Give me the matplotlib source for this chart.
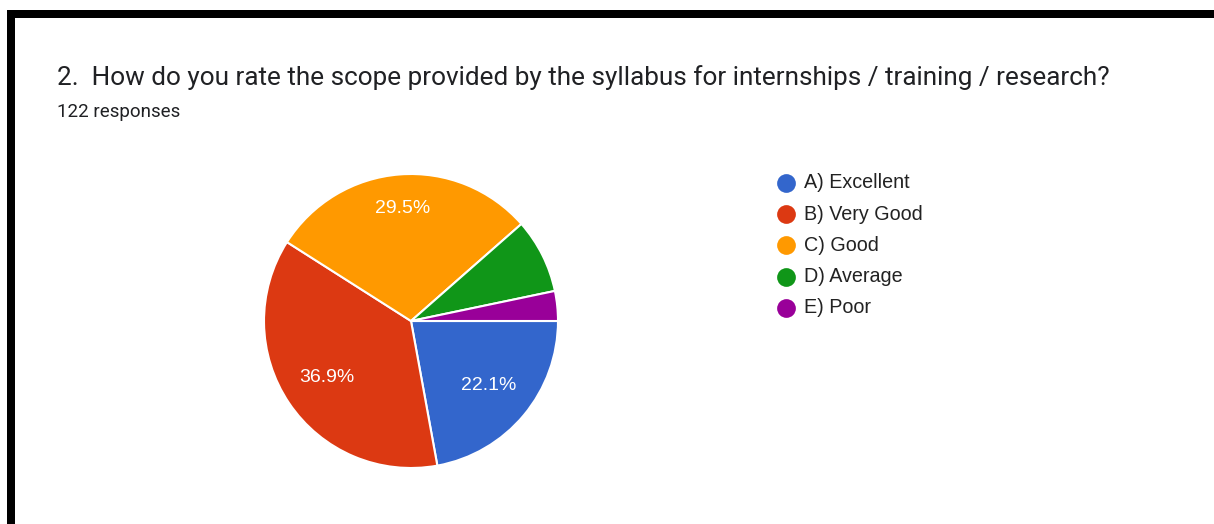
import matplotlib
matplotlib.use("Agg")
import matplotlib.pyplot as plt
from matplotlib.patches import Rectangle
from matplotlib.lines import Line2D


# Data
labels = ["A) Excellent", "B) Very Good", "C) Good", "D) Average", "E) Poor"]
counts = [27, 45, 36, 10, 4]
colors = ["#3366CC", "#DC3912", "#FF9900", "#109618", "#990099"]
title = "2.  How do you rate the scope provided by the syllabus for internships / training / research?"
subtitle = "122 responses"

W, H = 1214, 524
fig = plt.figure(figsize=(W / 100, H / 100), dpi=100)
fig.patch.set_facecolor("white")


def fx(px):
    return px / W


def fy(py):
    # py counted from the top of the image
    return 1 - py / H


# Black borders of the screenshot
fig.add_artist(Rectangle((fx(7), fy(18)), fx(W - 7), 8 / H, transform=fig.transFigure,
                         facecolor="black", edgecolor="none"))
fig.add_artist(Rectangle((fx(7), 0), fx(8), fy(10), transform=fig.transFigure,
                         facecolor="black", edgecolor="none"))

# Title
fig.text(fx(57), fy(85), title, fontsize=18.8, family="Roboto", color="#202124", va="baseline")
fig.text(fx(57), fy(117), subtitle, fontsize=13.5, family="Roboto", color="#202124", va="baseline")

# Pie
cx, cy, r = 411, 321, 147
ax = fig.add_axes([fx(cx - r), fy(cy + r), 2 * r / W, 2 * r / H])


def pct(p):
    return f"{p:.1f}%" if p > 10 else ""


wedges, texts, autotexts = ax.pie(
    counts, colors=colors, startangle=0, counterclock=False,
    autopct=pct, pctdistance=0.69,
    wedgeprops=dict(edgecolor="white", linewidth=1.5),
    textprops=dict(color="white", fontsize=14, family="Liberation Sans"),
)
# the label of the top slice sits a little further out
x, y = autotexts[2].get_position()
autotexts[2].set_position((x * 0.77 / 0.69, y * 0.77 / 0.69))
ax.set_xlim(-1.0, 1.0)
ax.set_ylim(-1.0, 1.0)
ax.axis("off")

# Legend
for i, (lab, col) in enumerate(zip(labels, colors)):
    y = 183 + i * 31.2
    fig.add_artist(Line2D([fx(786)], [fy(y)], marker="o", markersize=13.5, color=col,
                          markeredgewidth=0, transform=fig.transFigure, linestyle="none"))
    fig.text(fx(804), fy(y), lab, fontsize=14.2, family="Liberation Sans",
             color="#222222", va="center")

plt.savefig("out.png", dpi=100)
